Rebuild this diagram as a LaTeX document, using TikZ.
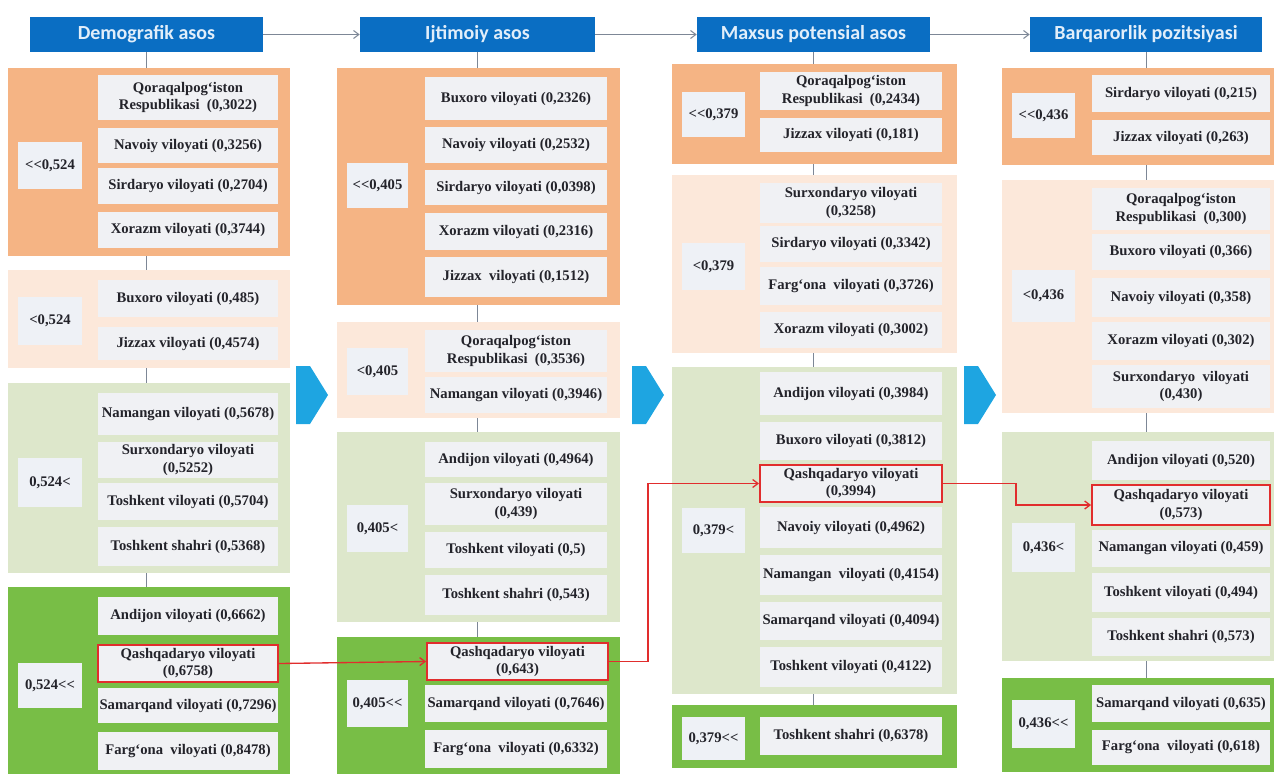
\documentclass[tikz,border=0pt]{standalone}
\usepackage{fontspec}
\setmainfont{Liberation Serif}[Ligatures=TeXOff]
\newfontfamily\hdrfam{Carlito}
\usetikzlibrary{arrows.meta}
\definecolor{hdrblue}{RGB}{10,110,195}
\definecolor{hdrtext}{RGB}{225,238,250}
\definecolor{dorange}{RGB}{245,180,132}
\definecolor{lorange}{RGB}{252,232,218}
\definecolor{lgreen}{RGB}{221,231,203}
\definecolor{dgreen}{RGB}{120,190,70}
\definecolor{itemfill}{RGB}{240,241,244}
\definecolor{lblfill}{RGB}{238,241,246}
\definecolor{txtcol}{RGB}{35,35,42}
\definecolor{redline}{RGB}{225,45,45}
\definecolor{grayline}{RGB}{125,135,150}
\definecolor{arrowblue}{RGB}{30,165,225}
\newcommand\mybox[7]{%
  \pgfmathsetmacro\bw{(#5-#3)*0.75}%
  \pgfmathsetmacro\bh{(#6-#4)*0.75}%
  \node[#1,minimum width=\bw pt,minimum height=\bh pt] (#2) at ({(#3+#5)/2},{(#4+#6)/2}) {#7};}
\tikzset{
  hdr/.style={fill=hdrblue,text=hdrtext,inner sep=0pt,font=\hdrfam\bfseries\fontsize{15}{17}\selectfont},
  grp/.style={inner sep=0pt,draw=none},
  itm/.style={fill=itemfill,text=txtcol,inner sep=0pt,align=center,font=\bfseries\fontsize{11}{13}\selectfont},
  hit/.style={itm,draw=redline,line width=1.4pt},
  lbl/.style={fill=lblfill,text=txtcol,inner sep=0pt,align=center,font=\bfseries\fontsize{11}{13}\selectfont},
  tick/.style={draw=grayline,line width=0.6pt},
  harrow/.style={draw=grayline,line width=0.8pt,-{Straight Barb[length=4pt,width=6pt]}},
  rarrow/.style={draw=redline,line width=1pt,-{Straight Barb[length=4pt,width=6pt]}},
  bigarrow/.style={fill=arrowblue}
}
\begin{document}
\begin{tikzpicture}[x=0.75pt,y=-0.75pt]
\useasboundingbox (0,0) rectangle (1278,774);
% headers
\mybox{hdr}{h1}{30}{17}{263}{52}{Demografik asos}
\mybox{hdr}{h2}{360}{17}{595}{52}{Ijtimoiy asos}
\mybox{hdr}{h3}{697}{17}{930}{52}{Maxsus potensial asos}
\mybox{hdr}{h4}{1030}{17}{1262}{52}{Barqarorlik pozitsiyasi}
\draw[harrow] (h1.east) -- (h2.west);
\draw[harrow] (h2.east) -- (h3.west);
\draw[harrow] (h3.east) -- (h4.west);
% ---------- column 1
\mybox{grp,fill=dorange}{g11}{8}{68}{290}{256}{}
\mybox{grp,fill=lorange}{g12}{8}{270}{290}{368}{}
\mybox{grp,fill=lgreen}{g13}{8}{383}{290}{573}{}
\mybox{grp,fill=dgreen}{g14}{8}{587}{290}{774}{}
\mybox{lbl}{l11}{18}{142}{82}{189}{<\kern0pt<0,524}
\mybox{lbl}{l12}{18}{297}{82}{345}{<0,524}
\mybox{lbl}{l13}{18}{458}{82}{507}{0,524<}
\mybox{lbl}{l14}{18}{663}{82}{708}{0,524<\kern0pt<}
\mybox{itm}{c1a}{98}{75}{278}{120}{Qoraqalpog‘iston\\Respublikasi~~(0,3022)}
\mybox{itm}{c1b}{98}{128}{278}{163}{Navoiy viloyati (0,3256)}
\mybox{itm}{c1c}{98}{168}{278}{204}{Sirdaryo viloyati (0,2704)}
\mybox{itm}{c1d}{98}{212}{278}{248}{Xorazm viloyati (0,3744)}
\mybox{itm}{c1e}{98}{280}{278}{317}{Buxoro viloyati (0,485)}
\mybox{itm}{c1f}{98}{327}{278}{360}{Jizzax viloyati (0,4574)}
\mybox{itm}{c1g}{98}{393}{278}{435}{Namangan viloyati (0,5678)}
\mybox{itm}{c1h}{98}{442}{278}{478}{Surxondaryo viloyati\\(0,5252)}
\mybox{itm}{c1i}{98}{483}{278}{520}{Toshkent viloyati (0,5704)}
\mybox{itm}{c1j}{98}{527}{278}{566}{Toshkent shahri (0,5368)}
\mybox{itm}{c1k}{98}{597}{278}{635}{Andijon viloyati (0,6662)}
\mybox{hit}{c1q}{98}{645}{278}{682}{Qashqadaryo viloyati\\(0,6758)}
\mybox{itm}{c1m}{98}{688}{278}{723}{Samarqand viloyati (0,7296)}
\mybox{itm}{c1n}{98}{732}{278}{770}{Farg‘ona~~viloyati (0,8478)}
% ---------- column 2
\mybox{grp,fill=dorange}{g21}{337}{68}{620}{305}{}
\mybox{grp,fill=lorange}{g22}{337}{322}{620}{418}{}
\mybox{grp,fill=lgreen}{g23}{337}{432}{620}{622}{}
\mybox{grp,fill=dgreen}{g24}{337}{637}{620}{774}{}
\mybox{lbl}{l21}{347}{163}{408}{208}{<\kern0pt<0,405}
\mybox{lbl}{l22}{347}{348}{408}{395}{<0,405}
\mybox{lbl}{l23}{347}{505}{408}{552}{0,405<}
\mybox{lbl}{l24}{347}{680}{408}{727}{0,405<\kern0pt<}
\mybox{itm}{c2a}{425}{77}{607}{120}{Buxoro viloyati (0,2326)}
\mybox{itm}{c2b}{425}{127}{607}{163}{Navoiy viloyati (0,2532)}
\mybox{itm}{c2c}{425}{170}{607}{205}{Sirdaryo viloyati (0,0398)}
\mybox{itm}{c2d}{425}{213}{607}{250}{Xorazm viloyati (0,2316)}
\mybox{itm}{c2e}{425}{257}{607}{297}{Jizzax~~viloyati (0,1512)}
\mybox{itm}{c2f}{425}{330}{607}{372}{Qoraqalpog‘iston\\Respublikasi~~(0,3536)}
\mybox{itm}{c2g}{425}{377}{607}{413}{Namangan viloyati (0,3946)}
\mybox{itm}{c2h}{425}{442}{607}{477}{Andijon viloyati (0,4964)}
\mybox{itm}{c2i}{425}{483}{607}{525}{Surxondaryo viloyati\\(0,439)}
\mybox{itm}{c2j}{425}{532}{607}{568}{Toshkent viloyati (0,5)}
\mybox{itm}{c2k}{425}{575}{607}{615}{Toshkent shahri (0,543)}
\mybox{hit}{c2q}{427}{643}{608}{680}{Qashqadaryo viloyati\\(0,643)}
\mybox{itm}{c2m}{425}{685}{607}{722}{Samarqand viloyati (0,7646)}
\mybox{itm}{c2n}{425}{730}{607}{768}{Farg‘ona~~viloyati (0,6332)}
% ---------- column 3
\mybox{grp,fill=dorange}{g31}{672}{64}{957}{164}{}
\mybox{grp,fill=lorange}{g32}{672}{175}{957}{353}{}
\mybox{grp,fill=lgreen}{g33}{672}{367}{957}{694}{}
\mybox{grp,fill=dgreen}{g34}{672}{705}{957}{768}{}
\mybox{lbl}{l31}{682}{92}{745}{137}{<\kern0pt<0,379}
\mybox{lbl}{l32}{682}{243}{745}{290}{<0,379}
\mybox{lbl}{l33}{682}{508}{745}{553}{0,379<}
\mybox{lbl}{l34}{682}{717}{745}{760}{0,379<\kern0pt<}
\mybox{itm}{c3a}{760}{72}{942}{110}{Qoraqalpog‘iston\\Respublikasi~~(0,2434)}
\mybox{itm}{c3b}{760}{118}{942}{152}{Jizzax viloyati (0,181)}
\mybox{itm}{c3c}{760}{183}{942}{223}{Surxondaryo viloyati\\(0,3258)}
\mybox{itm}{c3d}{760}{226}{942}{262}{Sirdaryo viloyati (0,3342)}
\mybox{itm}{c3e}{760}{267}{942}{305}{Farg‘ona~~viloyati (0,3726)}
\mybox{itm}{c3f}{760}{312}{942}{348}{Xorazm viloyati (0,3002)}
\mybox{itm}{c3g}{760}{372}{942}{415}{Andijon viloyati (0,3984)}
\mybox{itm}{c3h}{760}{422}{942}{460}{Buxoro viloyati (0,3812)}
\mybox{hit}{c3q}{760}{465}{942}{502}{Qashqadaryo viloyati\\(0,3994)}
\mybox{itm}{c3i}{760}{507}{942}{548}{Navoiy viloyati (0,4962)}
\mybox{itm}{c3j}{760}{555}{942}{595}{Namangan~~viloyati (0,4154)}
\mybox{itm}{c3k}{760}{602}{942}{640}{Samarqand viloyati (0,4094)}
\mybox{itm}{c3m}{760}{647}{942}{687}{Toshkent viloyati (0,4122)}
\mybox{itm}{c3n}{760}{717}{942}{755}{Toshkent shahri (0,6378)}
% ---------- column 4
\mybox{grp,fill=dorange}{g41}{1002}{68}{1274}{165}{}
\mybox{grp,fill=lorange}{g42}{1002}{180}{1274}{413}{}
\mybox{grp,fill=lgreen}{g43}{1002}{432}{1274}{661}{}
\mybox{grp,fill=dgreen}{g44}{1002}{678}{1274}{772}{}
\mybox{lbl}{l41}{1012}{93}{1075}{138}{<\kern0pt<0,436}
\mybox{lbl}{l42}{1012}{270}{1075}{322}{<0,436}
\mybox{lbl}{l43}{1012}{523}{1075}{572}{0,436<}
\mybox{lbl}{l44}{1012}{700}{1075}{748}{0,436<\kern0pt<}
\mybox{itm}{c4a}{1092}{75}{1270}{112}{Sirdaryo viloyati (0,215)}
\mybox{itm}{c4b}{1092}{120}{1270}{155}{Jizzax viloyati (0,263)}
\mybox{itm}{c4c}{1092}{188}{1270}{230}{Qoraqalpog‘iston\\Respublikasi~~(0,300)}
\mybox{itm}{c4d}{1092}{234}{1270}{270}{Buxoro viloyati (0,366)}
\mybox{itm}{c4e}{1092}{278}{1270}{317}{Navoiy viloyati (0,358)}
\mybox{itm}{c4f}{1092}{322}{1270}{360}{Xorazm viloyati (0,302)}
\mybox{itm}{c4g}{1092}{365}{1270}{408}{Surxondaryo~~viloyati\\(0,430)}
\mybox{itm}{c4h}{1092}{441}{1270}{480}{Andijon viloyati (0,520)}
\mybox{hit}{c4q}{1092}{485}{1270}{525}{Qashqadaryo viloyati\\(0,573)}
\mybox{itm}{c4i}{1092}{530}{1270}{567}{Namangan viloyati (0,459)}
\mybox{itm}{c4j}{1092}{573}{1270}{612}{Toshkent viloyati (0,494)}
\mybox{itm}{c4k}{1092}{618}{1270}{656}{Toshkent shahri (0,573)}
\mybox{itm}{c4m}{1092}{685}{1270}{722}{Samarqand viloyati (0,635)}
\mybox{itm}{c4n}{1092}{730}{1270}{765}{Farg‘ona~~viloyati (0,618)}
% ---------- ticks
\foreach \c in {1,2,3,4}{
  \draw[tick] (h\c.south) -- (h\c.south |- g\c1.north);
  \draw[tick] (h\c.south |- g\c1.south) -- (h\c.south |- g\c2.north);
  \draw[tick] (h\c.south |- g\c2.south) -- (h\c.south |- g\c3.north);
  \draw[tick] (h\c.south |- g\c3.south) -- (h\c.south |- g\c4.north);
}
% ---------- big blue arrows
\fill[bigarrow] (296,366) -- (310,366) -- (328,395) -- (310,424) -- (296,424) -- cycle;
\fill[bigarrow] (632,366) -- (646,366) -- (664,395) -- (646,424) -- (632,424) -- cycle;
\fill[bigarrow] (964,366) -- (978,366) -- (996,395) -- (978,424) -- (964,424) -- cycle;
% ---------- red path
\coordinate (r1) at (648,560);
\coordinate (r2) at (1016,495);
\draw[rarrow] (c1q.east) -- (c2q.west);
\draw[rarrow] (c2q.east) -| (r1) |- (c3q.west);
\draw[rarrow] (c3q.east) -| (r2) |- (c4q.west);
\end{tikzpicture}
\end{document}
